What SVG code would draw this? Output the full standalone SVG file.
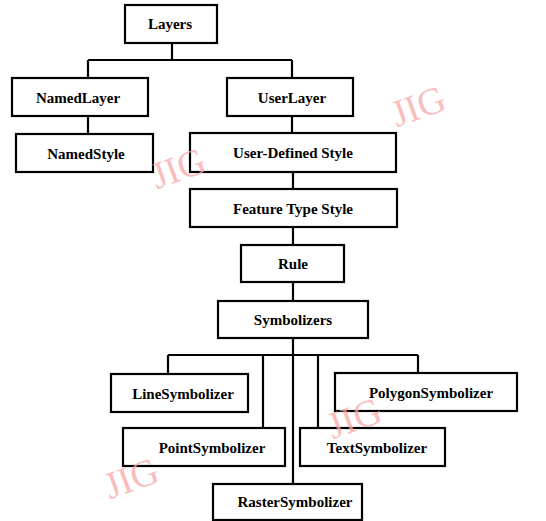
<svg xmlns="http://www.w3.org/2000/svg" width="546" height="521" viewBox="0 0 546 521">
<style>
.box{fill:#fff;stroke:#000;stroke-width:2.2}
.lbl{font-family:"Liberation Serif","Times New Roman",serif;font-weight:bold;font-size:15px;text-anchor:middle;dominant-baseline:central;fill:#000}
.conn{fill:none;stroke:#000;stroke-width:2.2}
.wm{font-family:"Liberation Serif","Times New Roman",serif;font-size:38px;fill:#f7a8a8;fill-opacity:0.75;text-anchor:middle;dominant-baseline:central}
</style>
<rect width="546" height="521" fill="#fff"/>
<g id="connectors" class="conn">
<path d="M172 43V60M88 60H292M88 60V78M292 60V78"/>
<path d="M88 116V134"/>
<path d="M292 116V133"/>
<path d="M293 172V189"/>
<path d="M293 227V245"/>
<path d="M293 282V301"/>
<path d="M293 338V484"/>
<path d="M168 355H418M168 355V374M418 355V373M263 355V428M318 355V428"/>
</g>
<g id="layers"><rect class="box" x="125" y="5" width="92" height="38"/><text class="lbl" x="170" y="24">Layers</text></g>
<g id="namedlayer"><rect class="box" x="12" y="78" width="136" height="38"/><text class="lbl" x="78" y="98">NamedLayer</text></g>
<g id="userlayer"><rect class="box" x="227" y="78" width="126" height="38"/><text class="lbl" x="292" y="98">UserLayer</text></g>
<g id="namedstyle"><rect class="box" x="16" y="134" width="137" height="38"/><text class="lbl" x="86" y="154">NamedStyle</text></g>
<g id="userdefinedstyle"><rect class="box" x="190" y="133" width="206" height="39"/><text class="lbl" x="293" y="153">User-Defined Style</text></g>
<g id="featuretypestyle"><rect class="box" x="190" y="189" width="207" height="38"/><text class="lbl" x="293" y="209">Feature Type Style</text></g>
<g id="rule"><rect class="box" x="241" y="245" width="103" height="37"/><text class="lbl" x="293" y="264">Rule</text></g>
<g id="symbolizers"><rect class="box" x="218" y="301" width="150" height="37"/><text class="lbl" x="293" y="320">Symbolizers</text></g>
<g id="linesymbolizer"><rect class="box" x="111" y="374" width="137" height="38"/><text class="lbl" x="183" y="394">LineSymbolizer</text></g>
<g id="polygonsymbolizer"><rect class="box" x="335" y="373" width="182" height="38"/><text class="lbl" x="431" y="393">PolygonSymbolizer</text></g>
<g id="pointsymbolizer"><rect class="box" x="123" y="428" width="162" height="38"/><text class="lbl" x="212" y="448">PointSymbolizer</text></g>
<g id="textsymbolizer"><rect class="box" x="300" y="428" width="145" height="38"/><text class="lbl" x="377" y="448">TextSymbolizer</text></g>
<g id="rastersymbolizer"><rect class="box" x="213" y="484" width="149" height="36"/><text class="lbl" x="295" y="502">RasterSymbolizer</text></g>
<g id="watermarks">
<text class="wm" transform="translate(418,106) rotate(-20)">JIG</text>
<text class="wm" transform="translate(178,168) rotate(-20)">JIG</text>
<text class="wm" transform="translate(354,418) rotate(-20)">JIG</text>
<text class="wm" transform="translate(131,478) rotate(-20)">JIG</text>
</g>
</svg>
